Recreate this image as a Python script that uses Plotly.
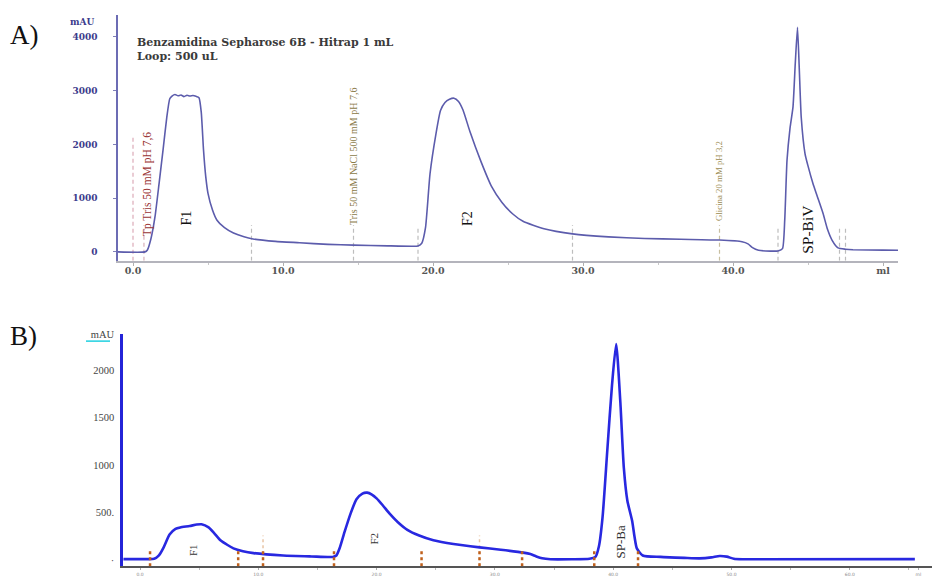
import plotly.graph_objects as go

# ---------------- Panel A data (ml, mAU) ----------------
a_ml = [-1, 0.8, 0.95, 1.2, 1.47, 1.75, 2.0, 2.25, 2.45, 2.6, 2.8, 3.0, 3.2, 3.4, 3.6, 3.8, 4.0, 4.2, 4.4,
        4.55, 4.7, 4.85, 5.0, 5.3, 5.6, 6.1, 6.7, 7.4, 8.0, 9.5, 11.1, 13.0, 14.7, 17.0, 18.6, 19.0,
        19.25, 19.5, 19.8, 20.2, 20.5, 20.8, 21.1, 21.4, 21.7, 22.0, 22.45, 23.2, 23.9, 24.6, 25.3,
        26.0, 27.4, 29.3, 31.7, 34.1, 36.5, 39.1, 40.6, 41.0, 41.3, 41.7, 42.5, 43.0, 43.3, 43.45, 43.6,
        43.8, 44.0, 44.15, 44.3, 44.42, 44.55, 44.8, 45.0, 45.33, 45.6, 46.0, 46.3, 46.6, 47.0,
        47.5, 48.0, 50.0, 51.0]
a_mau = [0, 0, 30, 250, 660, 1300, 1890, 2500, 2850, 2900, 2930, 2905, 2920, 2890, 2915, 2900, 2910, 2895, 2870,
         2600, 1900, 1400, 1090, 780, 590, 450, 350, 280, 240, 195, 170, 140, 125, 112, 105, 110,
         160, 450, 1450, 2200, 2630, 2780, 2840, 2860, 2800, 2640, 2250, 1680, 1220, 920, 710,
         570, 430, 335, 280, 250, 235, 220, 190, 150, 80, 30, 15, 18, 60, 600, 1700,
         2300, 2700, 3500, 4180, 3400, 2500, 1830, 1600, 1273, 1050, 720, 420, 220, 74,
         50, 40, 32, 30]

# event marks (dashed lines) in panel A
a_mark_ml = [0.0, 0.73, 7.9, 14.7, 19.0, 29.3, 39.1, 43.0, 47.1, 47.5]
a_mark_top = [2150, 500, 500, 500, 480, 500, 500, 480, 480, 480]
a_mark_col = ["#dcaab8", "#d8b0b8", "#bdbdbd", "#bdbdbd", "#bdbdbd", "#bdbdbd", "#c8bfa0", "#bdbdbd", "#bdbdbd", "#bdbdbd"]

a_xticks = [0, 10, 20, 30, 40, 50]
a_xticktext = ["0.0", "10.0", "20.0", "30.0", "40.0", "ml"]
a_yticks = [0, 1000, 2000, 3000, 4000]
a_yticktext = ["0", "1000", "2000", "3000", "4000"]

# ---------------- Panel B data (ml, mAU) ----------------
b_ml = [-1.4, 0.5, 1.2, 1.6, 2.0, 2.5, 3.0, 3.4, 4.2, 4.8, 5.2, 5.8, 6.3, 6.8, 7.4, 7.9, 8.7, 9.6,
        12.1, 14.5, 16.3, 16.6, 16.9, 17.3, 17.8, 18.3, 18.8, 19.2, 19.6, 20.0, 20.5, 21.1, 21.8,
        22.6, 23.6, 24.8, 26.5, 28.7, 30.5, 32.4, 33.0, 33.5, 34.0, 34.7, 36.5, 38.0, 38.5, 38.8,
        39.1, 39.5, 39.9, 40.25, 40.6, 40.9, 41.2, 41.6, 41.8, 42.0, 42.5, 44.0, 46.0,
        47.3, 48.3, 49.0, 49.6, 50.2, 51.0, 65.5]
b_mau = [12, 12, 15, 50, 135, 270, 330, 345, 360, 375, 378, 345, 280, 210, 160, 125, 95, 75,
         50, 40, 35, 50, 135, 300, 490, 640, 700, 710, 690, 650, 580, 490, 400,
         320, 260, 210, 170, 135, 110, 80, 65, 40, 20, 10, 10, 15, 35, 150,
         450, 1150, 1840, 2270, 1670, 970, 625, 415, 250, 125, 50, 35, 25,
         20, 30, 45, 38, 15, 10, 12]

b_mark_ml = [0.85, 8.3, 10.4, 16.4, 23.8, 28.7, 32.3, 38.4, 42.1]
b_mark_tall = [False, False, True, False, False, True, False, False, False]

b_xticks = [0, 10, 20, 30, 40, 50, 60, 65.8]
b_xticktext = ["0.0", "10.0", "20.0", "30.0", "40.0", "50.0", "60.0", "ml"]
b_yticks = [0, 500, 1000, 1500, 2000, 2375]
b_yticktext = ["·", "500.", "1000", "1500", "2000", "mAU"]

W, H = 946, 588

fig = go.Figure()
fig.add_trace(go.Scatter(x=a_ml, y=a_mau, mode="lines", line=dict(color="#5c5cac", width=1.6, shape="spline", smoothing=0.5),
                         xaxis="x", yaxis="y", showlegend=False, hoverinfo="skip"))
fig.add_trace(go.Scatter(x=b_ml, y=b_mau, mode="lines", line=dict(color="#2828e0", width=2.6, shape="spline", smoothing=0.6),
                         xaxis="x2", yaxis="y2", showlegend=False, hoverinfo="skip"))

shapes = []
for xm, top, col in zip(a_mark_ml, a_mark_top, a_mark_col):
    shapes.append(dict(type="line", xref="x", yref="y", x0=xm, x1=xm, y0=-166, y1=top,
                       line=dict(color=col, width=1.2, dash="4px,3px"), layer="below"))
for xm, tall in zip(b_mark_ml, b_mark_tall):
    if tall:
        shapes.append(dict(type="line", xref="x2", yref="y2", x0=xm, x1=xm, y0=-62, y1=260,
                           line=dict(color="#e8c4a4", width=1.5, dash="dot"), layer="below"))
    shapes.append(dict(type="line", xref="x2", yref="y2", x0=xm, x1=xm, y0=-62, y1=100,
                       line=dict(color="#c0601c", width=2.5, dash="dot")))
# cyan underline of "mAU" in panel B
shapes.append(dict(type="line", xref="paper", yref="paper", x0=86 / W, x1=110 / W,
                   y0=1 - 339 / H, y1=1 - 339 / H, line=dict(color="#20d0e0", width=1.5)))

ann = []
ann.append(dict(text="A)", x=8 / W, y=1 - 30 / H, xref="paper", yref="paper", xanchor="left", yanchor="middle",
                showarrow=False, font=dict(family="Liberation Serif", size=27, color="#111")))
ann.append(dict(text="B)", x=8 / W, y=1 - 334 / H, xref="paper", yref="paper", xanchor="left", yanchor="middle",
                showarrow=False, font=dict(family="Liberation Serif", size=27, color="#111")))
ann.append(dict(text="mAU", x=97 / W, y=1 - 17 / H, xref="paper", yref="paper", xanchor="right", yanchor="middle",
                showarrow=False, font=dict(family="DejaVu Serif", size=9, color="#3c3c8c", weight="bold")))
ann.append(dict(text="Benzamidina Sepharose 6B - Hitrap 1 mL<br>Loop: 500 uL", x=135 / W, y=1 - 45 / H,
                xref="paper", yref="paper", xanchor="left", yanchor="middle", align="left", showarrow=False,
                font=dict(family="DejaVu Serif", size=11, color="#3a3a3a", weight="bold")))

vtexts = [
    ("Tp Tris 50 mM pH 7,6", 0.98, 1255, "#9a3434", 11.5),
    ("Tris 50 mM NaCl 500 mM pH 7,6", 14.75, 1770, "#8a7a48", 10),
    ("Glicina 20 mM pH 3,2", 39.1, 1310, "#9a8a50", 8.8),
    ("F1", 3.6, 620, "#111", 14),
    ("F2", 22.3, 620, "#111", 14),
    ("SP-BiV", 45.0, 410, "#111", 15.5),
]
for t, xm, ym, col, fs in vtexts:
    ann.append(dict(text=t, x=xm, y=ym, xref="x", yref="y", textangle=-90, showarrow=False,
                    xanchor="center", yanchor="middle",
                    font=dict(family="Liberation Serif", size=fs, color=col)))

btexts = [("F1", 4.5, 110, 11), ("F2", 19.8, 230, 11), ("SP-Ba", 40.6, 190, 13)]
for t, xm, ym, fs in btexts:
    ann.append(dict(text=t, x=xm, y=ym, xref="x2", yref="y2", textangle=-90, showarrow=False,
                    xanchor="center", yanchor="middle",
                    font=dict(family="Liberation Serif", size=fs, color="#333")))

fig.update_layout(
    width=W, height=H, margin=dict(l=0, r=0, t=0, b=0),
    paper_bgcolor="white", plot_bgcolor="white", showlegend=False,
    shapes=shapes, annotations=ann,
    xaxis=dict(domain=[118 / W, 898 / W], range=[-1, 51], anchor="y", showgrid=False, zeroline=False,
               showline=True, linecolor="#b4b4bc", linewidth=1.5, ticks="outside", ticklen=3, tickcolor="#b0b0b0",
               tickvals=a_xticks, ticktext=a_xticktext, ticklabelstandoff=-3,
               tickfont=dict(family="DejaVu Serif", size=9.5, color="#555", weight="bold"),
               minor=dict(dtick=5, tick0=0, ticks="outside", ticklen=2, tickcolor="#c8c8c8")),
    yaxis=dict(domain=[1 - 258 / H, 1 - 10 / H], range=[-166, 4410], anchor="x", showgrid=False, zeroline=False,
               showline=True, linecolor="#6c6cb4", linewidth=1.5, ticks="outside", ticklen=3, tickcolor="#8080b8",
               tickvals=a_yticks, ticktext=a_yticktext, ticklabelstandoff=14,
               tickfont=dict(family="DejaVu Serif", size=9, color="#3c3c8c", weight="bold")),
    xaxis2=dict(domain=[123 / W, 932 / W], range=[-1.437, 66.95], anchor="y2", showgrid=False, zeroline=False,
                showline=True, linecolor="#555", linewidth=2, ticks="outside", ticklen=2, tickcolor="#aaa",
                tickvals=b_xticks, ticktext=b_xticktext,
                tickfont=dict(family="DejaVu Sans", size=4.5, color="#888"),
                minor=dict(dtick=5, tick0=0, ticks="outside", ticklen=2, tickcolor="#bbb")),
    yaxis2=dict(domain=[1 - 566 / H, 1 - 332 / H], range=[-62.5, 2375], anchor="x2", showgrid=False, zeroline=False,
                showline=True, linecolor="#2424d8", linewidth=2.5, ticks="",
                tickvals=b_yticks, ticktext=b_yticktext, ticklabelstandoff=4,
                tickfont=dict(family="Liberation Serif", size=10.5, color="#444")),
)

fig.write_html("out.html")
